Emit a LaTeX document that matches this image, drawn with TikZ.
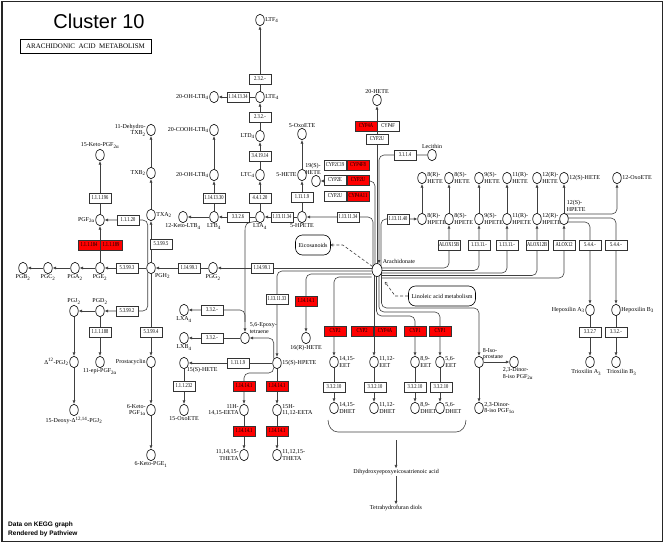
\documentclass[tikz,border=0pt]{standalone}
\usepackage{fontspec}
\setmainfont{Liberation Serif}
\newfontfamily\keggboxfont[FakeStretch=0.75]{Liberation Serif}
\newfontfamily\pvsans{Liberation Sans}
\usetikzlibrary{arrows.meta,calc,shapes.geometric}
\pgfdeclarelayer{bg}
\pgfsetlayers{bg,main}
\newcommand{\ksub}[1]{\textsubscript{#1}}
\tikzset{
  cpd/.style={ellipse,draw=black,fill=white,line width=0.6pt,minimum width=8.5pt,minimum height=11.5pt,inner sep=0pt},
  enz/.style={rectangle,draw=black!80,fill=white,line width=0.6pt,minimum width=22pt,minimum height=10pt,inner sep=0pt,font=\keggboxfont\fontsize{6}{6}\selectfont},
  hit/.style={enz,fill=red},
  lbl/.style={inner sep=0.6pt,font=\fontsize{6}{6.6}\selectfont},
  conn/.style={draw=black!75,line width=0.6pt},
  arr/.style={conn,-{Latex[length=3.5pt,width=3pt]}},
  mapbox/.style={rounded corners=7pt,draw=black,line width=0.6pt,fill=white,inner sep=0pt,font=\fontsize{6}{6}\selectfont},
  dashedlink/.style={conn,dash pattern=on 3pt off 2pt}
}
\begin{document}
\begin{tikzpicture}[x=1pt,y=-1pt]
\useasboundingbox (0,0) rectangle (664,544);
\draw[line width=1.1pt,draw=black!85] (2,1.5) rectangle (662.5,541.5);

% titles
\node[font=\pvsans\fontsize{20}{20}\selectfont,inner sep=0pt] (title) at (99,21.5) {Cluster 10};
\node[draw=black,line width=0.8pt,minimum width=131pt,minimum height=14pt,inner sep=0pt,font=\fontsize{7}{7}\selectfont] (mapname) at (85.5,46) {ARACHIDONIC\ \ ACID\ \ METABOLISM};
\node[font=\pvsans\bfseries\fontsize{6.5}{6.5}\selectfont,anchor=west,inner sep=0pt] (datanote) at (8,525) {Data on KEGG graph};
\node[font=\pvsans\bfseries\fontsize{6.5}{6.5}\selectfont,anchor=west,inner sep=0pt] (rendnote) at (8,534) {Rendered by Pathview};

% ---------- leukotrienes ----------
\node[cpd,label={[lbl]east:LTF\ksub4}] (ltf4) at (260,20) {};
\node[enz] (e2321a) at (260,79) {2.3.2.-};
\node[cpd,label={[lbl]east:LTE\ksub4}] (lte4) at (260,97) {};
\node[enz] (e1141334) at (238,97) {1.14.13.34};
\node[cpd,label={[lbl]west:20-OH-LTB\ksub4}] (ohltba) at (214,97) {};
\node[enz] (e2321b) at (260,117) {2.3.2.-};
\node[cpd,label={[lbl]west:LTD\ksub4}] (ltd4) at (260,136) {};
\node[enz] (e341914) at (260,156) {3.4.19.14};
\node[cpd,label={[lbl]west:LTC\ksub4}] (ltc4) at (260,175) {};
\node[enz] (e44120) at (260,198) {4.4.1.20};
\node[cpd,label={[lbl]south:LTA\ksub4}] (lta4) at (260,217) {};
\node[enz] (e3326) at (238,217) {3.3.2.6};
\node[cpd,label={[lbl]south:LTB\ksub4}] (ltb4) at (214,217) {};
\node[cpd,label={[lbl]south:12-Keto-LTB\ksub4}] (kltb4) at (183,217) {};
\node[enz] (e1141330) at (214,198) {1.14.13.30};
\node[cpd,label={[lbl]west:20-OH-LTB\ksub4}] (ohltbb) at (214,175) {};
\node[cpd,label={[lbl]west:20-COOH-LTB\ksub4}] (cooh) at (214,130) {};
\node[enz] (e11311341) at (282,217) {1.13.11.34};
\node[cpd,label={[lbl]south:5-HPETE}] (hpete5) at (302,217) {};
\node[enz] (e11119a) at (302,197) {1.11.1.9};
\node[cpd,label={[lbl]west:5-HETE}] (hete5) at (302,175) {};
\node[cpd,label={[lbl]north:5-OxoETE}] (oxo5) at (302,134) {};
\node[cpd] (hete19) at (316,181) {};
\node[lbl,anchor=south,align=center] (hete19l) at (313,175) {19(S)-\\HETE};
\node[enz] (e11311342) at (348,217) {1.13.11.34};

% CYP grid
\node[enz] (c2c19) at (335,165) {CYP2C19};
\node[hit] (c4f8) at (358,165) {CYP4F8};
\node[enz] (c2e) at (335,180) {CYP2E};
\node[hit] (c2u) at (358,180) {CYP2U};
\node[enz] (c2ub) at (335,196) {CYP2U};
\node[hit] (c4a11) at (358,196) {CYP4A11};

% 20-HETE, lecithin
\node[cpd,label={[lbl]north:20-HETE}] (hete20) at (377,100) {};
\node[hit] (cyp4a) at (366,126) {CYP4A};
\node[enz] (cyp4f) at (388,126) {CYP4F};
\node[enz] (cyp2uc) at (377,139) {CYP2U};
\node[enz] (e3114) at (405,155) {3.1.1.4};
\node[cpd,label={[lbl]north:Lecithin}] (lecithin) at (432,155) {};

% HETE / HPETE
\node[cpd,label={[lbl,align=left]east:8(R)-\\HETE}] (hete8r) at (422,178) {};
\node[cpd,label={[lbl,align=left]east:8(S)-\\HETE}] (hete8s) at (449,178) {};
\node[cpd,label={[lbl,align=left]east:9(S)-\\HETE}] (hete9s) at (479,178) {};
\node[cpd,label={[lbl,align=left]east:11(R)-\\HETE}] (hete11r) at (507,178) {};
\node[cpd,label={[lbl,align=left]east:12(R)-\\HETE}] (hete12r) at (537,178) {};
\node[cpd,label={[lbl]east:12(S)-HETE}] (hete12s) at (564,178) {};
\node[cpd,label={[lbl]east:12-OxoETE}] (oxo12) at (617,178) {};

\node[enz] (e1131140) at (398,219) {1.13.11.40};
\node[cpd,label={[lbl,align=left]east:8(R)-\\HPETE}] (hpete8r) at (422,219) {};
\node[cpd,label={[lbl,align=left]east:8(S)-\\HPETE}] (hpete8s) at (449,219) {};
\node[cpd,label={[lbl,align=left]east:9(S)-\\HPETE}] (hpete9s) at (479,219) {};
\node[cpd,label={[lbl,align=left]east:11(R)-\\HPETE}] (hpete11r) at (507,219) {};
\node[cpd,label={[lbl,align=left]east:12(R)-\\HPETE}] (hpete12r) at (537,219) {};
\node[cpd] (hpete12s) at (564,219) {};
\node[lbl,anchor=south west,align=left] (hpete12sl) at (566,212) {12(S)-\\HPETE};

\node[enz] (alox15b) at (449,245) {ALOX15B};
\node[enz] (e11311a) at (479,245) {1.13.11.-};
\node[enz] (e11311b) at (507,245) {1.13.11.-};
\node[enz] (alox12b) at (537,245) {ALOX12B};
\node[enz] (alox12) at (564,245) {ALOX12};
\node[enz] (e544a) at (590,245) {5.4.4.-};
\node[enz] (e544b) at (616,245) {5.4.4.-};

\node[cpd,label={[lbl]west:Hepoxilin A\ksub3}] (hepa3) at (590,310) {};
\node[cpd,label={[lbl]east:Hepoxilin B\ksub3}] (hepb3) at (616,310) {};
\node[enz] (e3327) at (590,332) {3.3.2.7};
\node[enz] (e332c) at (616,332) {3.3.2.-};
\node[cpd] (trioxa3) at (590,362) {};
\node[cpd] (trioxb3) at (616,362) {};
\node[lbl,anchor=north east] (trioxa3l) at (602,369) {Trioxilin A\ksub3};
\node[lbl,anchor=north west] (trioxb3l) at (606,369) {Trioxilin B\ksub3};

% Arachidonate and maps
\node[cpd,minimum width=10pt,minimum height=13pt] (arach) at (377,270) {};
\node[lbl,anchor=south west] (arachl) at (382,264) {Arachidonate};
\node[mapbox,minimum width=35pt,minimum height=20pt] (eico) at (313,245) {Eicosanoids};
\node[mapbox,minimum width=67pt,minimum height=20pt] (linol) at (442,296) {Linoleic acid metabolism};
\coordinate (linend) at (385,282);

% ---------- prostanoids ----------
\node[cpd,label={[lbl,align=right]west:11-Dehydro-\\TXB\ksub2}] (dhtxb2) at (151,130) {};
\node[cpd,label={[lbl]west:TXB\ksub2}] (txb2) at (151,173) {};
\node[cpd,label={[lbl]east:TXA\ksub2}] (txa2) at (151,215) {};
\node[enz] (e53995) at (161,244) {5.3.99.5};
\node[cpd,label={[lbl]south east:PGH\ksub2}] (pgh2) at (151,268) {};
\node[enz] (e114991b) at (189,268) {1.14.99.1};
\node[cpd,label={[lbl]south:PGG\ksub2}] (pgg2) at (213,268) {};
\node[enz] (e114991a) at (262,268) {1.14.99.1};
\node[enz] (e11120) at (128,220) {1.1.1.20};
\node[cpd,label={[lbl]west:PGF\ksub{2α}}] (pgf2a) at (100,220) {};
\node[enz] (e111196) at (100,198) {1.1.1.196};
\node[cpd,label={[lbl]north:15-Keto-PGF\ksub{2α}}] (kpgf2a) at (100,155) {};
\node[hit] (e111184) at (89,245) {1.1.1.184};
\node[hit] (e111189) at (111,245) {1.1.1.189};
\node[cpd,label={[lbl]south:PGE\ksub2}] (pge2) at (100,268) {};
\node[enz] (e53993) at (127,268) {5.3.99.3};
\node[cpd,label={[lbl]south:PGA\ksub2}] (pga2) at (75,268) {};
\node[cpd,label={[lbl]south:PGC\ksub2}] (pgc2) at (48,268) {};
\node[cpd,label={[lbl]south:PGB\ksub2}] (pgb2) at (23,268) {};
\node[enz] (e53992) at (127,311) {5.3.99.2};
\node[cpd,label={[lbl]north:PGD\ksub2}] (pgd2) at (100,311) {};
\node[cpd,label={[lbl]north:PGJ\ksub2}] (pgj2) at (74,311) {};
\node[enz] (e111188) at (100,332) {1.1.1.188};
\node[cpd,label={[lbl]south:11-epi-PGF\ksub{2α}}] (epipgf) at (100,362) {};
\node[cpd,label={[lbl]west:Δ\textsuperscript{12}-PGJ\ksub2}] (d12pgj2) at (74,362) {};
\node[cpd,label={[lbl]south:15-Deoxy-Δ\textsuperscript{12,14}-PGJ\ksub2}] (dpgj2) at (74,410) {};
\node[enz] (e53994) at (151,332) {5.3.99.4};
\node[cpd,label={[lbl]west:Prostacyclin}] (pgi2) at (151,362) {};
\node[cpd,label={[lbl,align=right]west:6-Keto-\\PGF\ksub{1α}}] (kpgf1a) at (151,410) {};
\node[cpd,label={[lbl]south:6-Keto-PGE\ksub1}] (kpge1) at (151,455) {};

% ---------- lipoxins / 15-HPETE ----------
\node[cpd,label={[lbl]south:LXA\ksub4}] (lxa4) at (184,310) {};
\node[enz] (e332a) at (212,310) {3.3.2.-};
\node[cpd,label={[lbl]south:LXB\ksub4}] (lxb4) at (184,338) {};
\node[enz] (e332b) at (212,338) {3.3.2.-};
\node[cpd] (epoxy) at (245,338) {};
\node[lbl,anchor=south west,align=left] (epoxyl) at (249,334) {5,6-Epoxy-\\tetraene};
\node[cpd,label={[lbl]east:15(S)-HPETE}] (hpete15) at (277,363) {};
\node[enz] (e11119b) at (238,363) {1.11.1.9};
\node[cpd] (hete15) at (184,363) {};
\node[lbl,anchor=north west] (hete15l) at (186,367) {15(S)-HETE};
\node[enz] (e111232) at (184,386) {1.1.1.232};
\node[cpd,label={[lbl]south:15-OxoETE}] (oxo15) at (184,410) {};
\node[enz] (e1131133) at (277,299) {1.13.11.33};
\node[hit] (e114141a) at (306,301) {1.14.14.1};
\node[cpd,label={[lbl]south:16(R)-HETE}] (hete16) at (306,338) {};
\node[hit] (r1a) at (244,386) {1.14.14.1};
\node[hit] (r1b) at (277,386) {1.14.14.1};
\node[cpd,label={[lbl,align=right]west:11H-\\14,15-EETA}] (eeta11) at (244,410) {};
\node[cpd,label={[lbl,align=left]east:15H-\\11,12-EETA}] (eeta15) at (277,410) {};
\node[hit] (r1c) at (244,431) {1.14.14.1};
\node[hit] (r1d) at (277,431) {1.14.14.1};
\node[cpd,label={[lbl,align=right]west:11,14,15-\\THETA}] (theta1) at (244,455) {};
\node[cpd,label={[lbl,align=left]east:11,12,15-\\THETA}] (theta2) at (277,455) {};

% ---------- EETs ----------
\node[hit] (cyp2a) at (335,331) {CYP2};
\node[hit] (cyp2b) at (362,331) {CYP2};
\node[hit] (cyp4ab) at (385,331) {CYP4A};
\node[hit] (cyp1a) at (415,331) {CYP1};
\node[hit] (cyp1b) at (440,331) {CYP1};
\node[cpd,label={[lbl,align=left]east:14,15-\\EET}] (eet1415) at (334,362) {};
\node[cpd,label={[lbl,align=left]east:11,12-\\EET}] (eet1112) at (374,362) {};
\node[cpd,label={[lbl,align=left]east:8,9-\\EET}] (eet89) at (415,362) {};
\node[cpd,label={[lbl,align=left]east:5,6-\\EET}] (eet56) at (440,362) {};
\node[enz] (h1) at (334,387) {3.3.2.10};
\node[enz] (h2) at (375,387) {3.3.2.10};
\node[enz] (h3) at (415,387) {3.3.2.10};
\node[enz] (h4) at (441,387) {3.3.2.10};
\node[cpd,label={[lbl,align=left]east:14,15-\\DHET}] (dhet1415) at (334,408) {};
\node[cpd,label={[lbl,align=left]east:11,12-\\DHET}] (dhet1112) at (374,408) {};
\node[cpd,label={[lbl,align=left]east:8,9-\\DHET}] (dhet89) at (415,408) {};
\node[cpd,label={[lbl,align=left]east:5,6-\\DHET}] (dhet56) at (440,408) {};
\coordinate (brk) at (396,440);
\node[lbl] (dhe) at (396,472) {Dihydroxyepoxyeicosatrienoic acid};
\node[lbl] (thf) at (396,508) {Tetrahydrofuran diols};

% 8-iso
\node[cpd] (isop) at (479,362) {};
\node[lbl,anchor=south west,align=left] (isopl) at (482,361) {8-Iso-\\prostane};
\node[cpd] (dinor2a) at (514,362) {};
\node[lbl,anchor=north,align=left] (dinor2al) at (518,367) {2,3-Dinor-\\8-iso PGF\ksub{2α}};
\node[cpd,label={[lbl,align=left]east:2,3-Dinor-\\8-iso PGF\ksub{1α}}] (dinor1a) at (479,408) {};

% ================= connectors =================
\begin{pgfonlayer}{bg}
% leukotrienes
\draw[arr] (lte4) -- (ltf4);
\draw[arr] (lte4) -- (ohltba);
\draw[arr] (ltd4) -- (lte4);
\draw[arr] (ltc4) -- (ltd4);
\draw[arr] (lta4) -- (ltc4);
\draw[arr] (lta4) -- (ltb4);
\draw[arr] (ltb4) -- (kltb4);
\draw[arr] (ltb4) -- (ohltbb);
\draw[arr] (ohltbb) -- (cooh);
\draw[arr] (hpete5) -- (lta4);
\draw[arr] (hpete5) -- (hete5);
\draw[arr] (hete5) -- (oxo5);
\draw[arr] (lta4.south west) .. controls (245,223) .. (245,234) -- (epoxy.north);
\draw[arr,rounded corners=5] ($(epoxy.north)+(0,-10)$) |- (lxa4.east);
\draw[arr] (epoxy) -- (lxb4);
\draw[arr,rounded corners=5] (hpete15.north west) |- (epoxy.east);
\draw[arr] (hpete15) -- (hete15);
\draw[arr] (hete15) -- (oxo15);
\draw[arr] (hpete15) -- (eeta15);
\draw[arr,rounded corners=5] (hpete15.south west) |- (258,373) -| (eeta11.north);
\draw[arr] (eeta11) -- (theta1);
\draw[arr] (eeta15) -- (theta2);
% prostanoids
\draw[arr] (arach.west |- pgg2) -- (pgg2);
\draw[arr] (pgg2) -- (pgh2);
\draw[arr] (pgh2) -- (txa2);
\draw[arr] (txa2) -- (txb2);
\draw[arr] (txb2) -- (dhtxb2);
\draw[arr,rounded corners=5] (pgh2.north west) |- (pgf2a);
\draw[arr] (pgh2) -- (pge2);
\draw[arr] (pge2) -- (pgf2a);
\draw[arr] (pgf2a) -- (kpgf2a);
\draw[arr] (pge2) -- (pga2);
\draw[arr] (pga2) -- (pgc2);
\draw[arr] (pgc2) -- (pgb2);
\draw[arr,rounded corners=5] (pgh2.south west) |- (pgd2);
\draw[arr] (pgd2) -- (pgj2);
\draw[arr] (pgj2) -- (d12pgj2);
\draw[arr] (d12pgj2) -- (dpgj2);
\draw[arr] (pgd2) -- (epipgf);
\draw[arr] (pgh2) -- (pgi2);
\draw[arr] (pgi2) -- (kpgf1a);
\draw[arr] (kpgf1a) -- (kpge1);
% arachidonate: left
\draw[arr,rounded corners=5] ($(arach)+(-5.5,1)$) -| (hpete15);
\draw[arr,rounded corners=5] ($(arach)+(-5.5,4)$) -| (hete16);
\draw[arr,rounded corners=5] ($(arach)+(-5.5,7)$) -| (eet1415);
% arachidonate: down
\draw[arr] ($(arach)+(-3,2)$) -- (eet1112);
\draw[arr,rounded corners=5] ($(arach)+(-0.5,2)$) |- (400,316) -| (eet89);
\draw[arr,rounded corners=5] ($(arach)+(2,2)$) |- (420,312) -| (eet56);
\draw[arr,rounded corners=5] ($(arach)+(4.5,2)$) |- (440,308) -| (isop);
% arachidonate: up
\draw[arr,rounded corners=5] ($(arach)+(-4,-2)$) |- (hpete5);
\draw[arr,rounded corners=5] ($(arach)+(-2,-2)$) |- (hete19);
\draw[arr] ($(arach)+(0,-2)$) -- (hete20);
\draw[arr,rounded corners=5] (lecithin) -| ($(arach.north)+(2,0.5)$);
\draw[arr,rounded corners=5] ($(arach)+(4,-2)$) |- (hpete8r);
% arachidonate: right
\draw[arr,rounded corners=5] ($(arach)+(5,-2)$) -| (hpete8s);
\draw[arr,rounded corners=5] ($(arach)+(5,0.5)$) -| (hpete9s);
\draw[arr,rounded corners=5] ($(arach)+(5,3)$) -| (hpete11r);
\draw[arr,rounded corners=5] ($(arach)+(5,5.5)$) -| (hpete12r);
\draw[arr,rounded corners=5] ($(arach)+(5,8)$) -| (hpete12s);
% maps
\draw[dashedlink,{To[length=2.5pt,width=3pt]}-] (eico.east) -- ++(12,0) -- ($(arach)+(-4.5,-3.5)$);
\draw[dashedlink,-{To[length=2.5pt,width=3pt]}] (linol.west) -- ++(-13,0) -- (linend);
% HPETE -> HETE
\draw[arr] (hpete8r) -- (hete8r);
\draw[arr] (hpete8s) -- (hete8s);
\draw[arr] (hpete9s) -- (hete9s);
\draw[arr] (hpete11r) -- (hete11r);
\draw[arr] (hpete12r) -- (hete12r);
\draw[arr] (hpete12s) -- (hete12s);
\draw[arr,rounded corners=5] ($(hpete12s)+(0,-5)$) -| (oxo12);
\draw[arr,rounded corners=5] ($(hpete12s)+(0,-1)$) -| (hepb3);
\draw[arr,rounded corners=5] ($(hpete12s)+(0,3)$) -| (hepa3);
\draw[arr] (hepa3) -- (trioxa3);
\draw[arr] (hepb3) -- (trioxb3);
% EETs
\draw[arr] (eet1415) -- (dhet1415);
\draw[arr] (eet1112) -- (dhet1112);
\draw[arr] (eet89) -- (dhet89);
\draw[arr] (eet56) -- (dhet56);
\draw[conn] (328,420) to[out=-90,in=180] (338,432) -- (456,432) to[out=0,in=-90] (466,420);
\draw[arr] (brk) -- (dhe);
\draw[arr] (dhe) -- (thf);
% 8-iso
\draw[arr] (isop) -- (dinor2a);
\draw[arr] (isop) -- (dinor1a);
\end{pgfonlayer}
\end{tikzpicture}
\end{document}
